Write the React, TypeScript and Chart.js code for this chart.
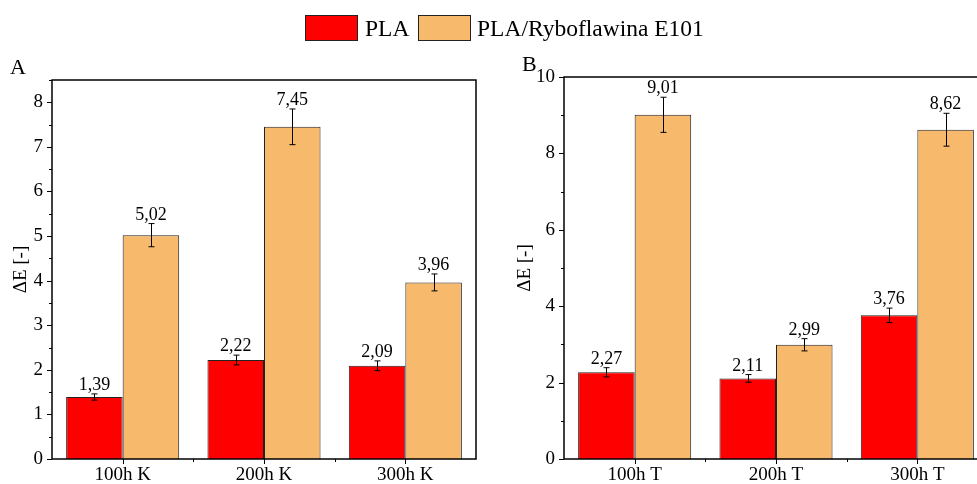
import React, { useEffect, useRef } from 'react';
import { Chart, registerables } from 'chart.js';

Chart.register(...registerables);

// ---- data ----
const categoriesA = ['100h K', '200h K', '300h K'];
const categoriesB = ['100h T', '200h T', '300h T'];
const seriesNames = ['PLA', 'PLA/Ryboflawina E101'];

const plaA = [1.39, 2.22, 2.09];
const plaErrA = [0.07, 0.11, 0.11];
const ryboA = [5.02, 7.45, 3.96];
const ryboErrA = [0.26, 0.4, 0.19];

const plaB = [2.27, 2.11, 3.76];
const plaErrB = [0.12, 0.1, 0.19];
const ryboB = [9.01, 2.99, 8.62];
const ryboErrB = [0.46, 0.16, 0.43];

const axisTitle = 'ΔE [-]';

// ---- style ----
const FONT = "'Liberation Serif', 'Times New Roman', serif";
const RED = '#FF0000';
const ORANGE = '#F7B96C';
const EDGE = '#222222';

const fmt = (v: number) => v.toFixed(2).replace('.', ',');

const decor = {
  id: 'decor',
  afterDatasetsDraw(chart: any, _args: any, opts: any) {
    const ctx = chart.ctx;
    const ys = chart.scales.y;
    chart.data.datasets.forEach((ds: any, i: number) => {
      const meta = chart.getDatasetMeta(i);
      const errs = opts.errors[i];
      meta.data.forEach((bar: any, j: number) => {
        const v = ds.data[j];
        const e = errs[j];
        const x = Math.round(bar.x) + 0.5;
        const yTop = ys.getPixelForValue(v + e);
        const yBot = ys.getPixelForValue(v - e);
        ctx.save();
        ctx.strokeStyle = '#000';
        ctx.lineWidth = 1;
        ctx.beginPath();
        ctx.moveTo(x, yTop);
        ctx.lineTo(x, yBot);
        ctx.moveTo(x - 3, yTop);
        ctx.lineTo(x + 3, yTop);
        ctx.moveTo(x - 3, yBot);
        ctx.lineTo(x + 3, yBot);
        ctx.stroke();
        ctx.fillStyle = '#000';
        ctx.font = `18px ${FONT}`;
        ctx.textAlign = 'center';
        ctx.textBaseline = 'alphabetic';
        ctx.fillText(fmt(v), bar.x, yTop - 4);
        ctx.restore();
      });
    });
  },
  afterDraw(chart: any, _args: any, opts: any) {
    const ctx = chart.ctx;
    const a = chart.chartArea;
    const ys = chart.scales.y;
    const xs = chart.scales.x;
    ctx.save();
    ctx.strokeStyle = '#000';
    ctx.lineWidth = 1.5;
    ctx.strokeRect(a.left, a.top, a.right - a.left, a.bottom - a.top);
    ctx.lineWidth = 1;
    ctx.beginPath();
    ys.ticks.forEach((t: any, k: number) => {
      const py = Math.round(ys.getPixelForTick(k)) + 0.5;
      const len = opts.isMajor(t.value) ? 5 : 3;
      ctx.moveTo(a.left - len, py);
      ctx.lineTo(a.left, py);
    });
    const n = chart.data.labels.length;
    for (let k = 0; k < n; k++) {
      const px = Math.round(xs.getPixelForTick(k)) + 0.5;
      ctx.moveTo(px, a.bottom);
      ctx.lineTo(px, a.bottom + 5);
    }
    for (let k = 1; k < n; k++) {
      const px = Math.round(xs.getPixelForValue(k - 0.5)) + 0.5;
      ctx.moveTo(px, a.bottom);
      ctx.lineTo(px, a.bottom + 3);
    }
    ctx.stroke();
    ctx.restore();
  },
};

interface PanelProps {
  labels: string[];
  pla: number[];
  plaErr: number[];
  rybo: number[];
  ryboErr: number[];
  max: number;
  step: number;
  isMajor: (v: number) => boolean;
  padTop: number;
  padRight: number;
  yWidth: number;
  titlePad: number;
}

function Panel(p: PanelProps) {
  const ref = useRef<HTMLCanvasElement | null>(null);
  useEffect(() => {
    if (!ref.current) return;
    Chart.defaults.color = '#000';
    const chart = new Chart(ref.current, {
      type: 'bar',
      data: {
        labels: p.labels,
        datasets: [
          {
            label: seriesNames[0],
            data: p.pla,
            backgroundColor: RED,
            borderColor: EDGE,
            borderWidth: 1,
            barPercentage: 1,
            categoryPercentage: 0.8,
          },
          {
            label: seriesNames[1],
            data: p.rybo,
            backgroundColor: ORANGE,
            borderColor: EDGE,
            borderWidth: 1,
            barPercentage: 1,
            categoryPercentage: 0.8,
          },
        ],
      },
      options: {
        animation: false,
        responsive: false,
        maintainAspectRatio: false,
        layout: { padding: { top: p.padTop, right: p.padRight, left: 0, bottom: 0 } },
        plugins: {
          legend: { display: false },
          tooltip: { enabled: false },
          decor: { errors: [p.plaErr, p.ryboErr], isMajor: p.isMajor },
        } as any,
        scales: {
          x: {
            grid: { display: false, drawTicks: false, tickLength: 0 },
            border: { display: false },
            ticks: { font: { family: FONT, size: 19 }, color: '#000', padding: 5 },
            afterFit: (s: any) => {
              s.height = 25;
            },
          },
          y: {
            min: 0,
            max: p.max,
            grid: { display: false, drawTicks: false, tickLength: 0 },
            border: { display: false },
            ticks: {
              stepSize: p.step,
              autoSkip: false,
              font: { family: FONT, size: 19 },
              color: '#000',
              padding: 9,
              callback: (v: any) => (p.isMajor(Number(v)) ? String(v) : ''),
            },
            title: {
              display: true,
              text: axisTitle,
              font: { family: FONT, size: 19 },
              color: '#000',
              padding: { top: p.titlePad, bottom: 0 },
            },
            afterFit: (s: any) => {
              s.width = p.yWidth;
            },
          },
        },
      } as any,
      plugins: [decor as any],
    });
    return () => chart.destroy();
  }, []);
  return <canvas ref={ref} width={p.yWidth + 424 + p.padRight} height={484} style={{ display: 'block' }} />;
}

export default function App() {
  const boxStyle = (bg: string): React.CSSProperties => ({
    position: 'absolute',
    top: 15,
    width: 53,
    height: 26,
    background: bg,
    border: `1px solid ${EDGE}`,
    boxSizing: 'border-box',
  });
  const textStyle: React.CSSProperties = {
    position: 'absolute',
    top: 13,
    fontFamily: FONT,
    fontSize: 23.5,
    lineHeight: '30px',
    color: '#000',
    whiteSpace: 'nowrap',
  };
  const letterStyle: React.CSSProperties = {
    position: 'absolute',
    fontFamily: FONT,
    fontSize: 22,
    lineHeight: '24px',
    color: '#000',
  };
  return (
    <div
      style={{
        position: 'fixed',
        left: 0,
        top: 0,
        width: 977,
        height: 484,
        overflow: 'hidden',
        background: '#fff',
      }}
    >
      <div style={{ position: 'absolute', left: 0, top: 0 }}>
        <Panel
          labels={categoriesA}
          pla={plaA}
          plaErr={plaErrA}
          rybo={ryboA}
          ryboErr={ryboErrA}
          max={8.5}
          step={0.5}
          isMajor={(v) => Math.abs(v - Math.round(v)) < 1e-6}
          padTop={80}
          padRight={14}
          yWidth={52}
          titlePad={10}
        />
      </div>
      <div style={{ position: 'absolute', left: 490, top: 0 }}>
        <Panel
          labels={categoriesB}
          pla={plaB}
          plaErr={plaErrB}
          rybo={ryboB}
          ryboErr={ryboErrB}
          max={10}
          step={1}
          isMajor={(v) => Math.round(v) % 2 === 0}
          padTop={77}
          padRight={12}
          yWidth={74}
          titlePad={24}
        />
      </div>
      <div style={{ ...boxStyle(RED), left: 305 }} />
      <div style={{ ...textStyle, left: 365 }}>{seriesNames[0]}</div>
      <div style={{ ...boxStyle(ORANGE), left: 418 }} />
      <div style={{ ...textStyle, left: 477 }}>{seriesNames[1]}</div>
      <div style={{ ...letterStyle, left: 10, top: 55 }}>A</div>
      <div style={{ ...letterStyle, left: 522, top: 52 }}>B</div>
    </div>
  );
}
